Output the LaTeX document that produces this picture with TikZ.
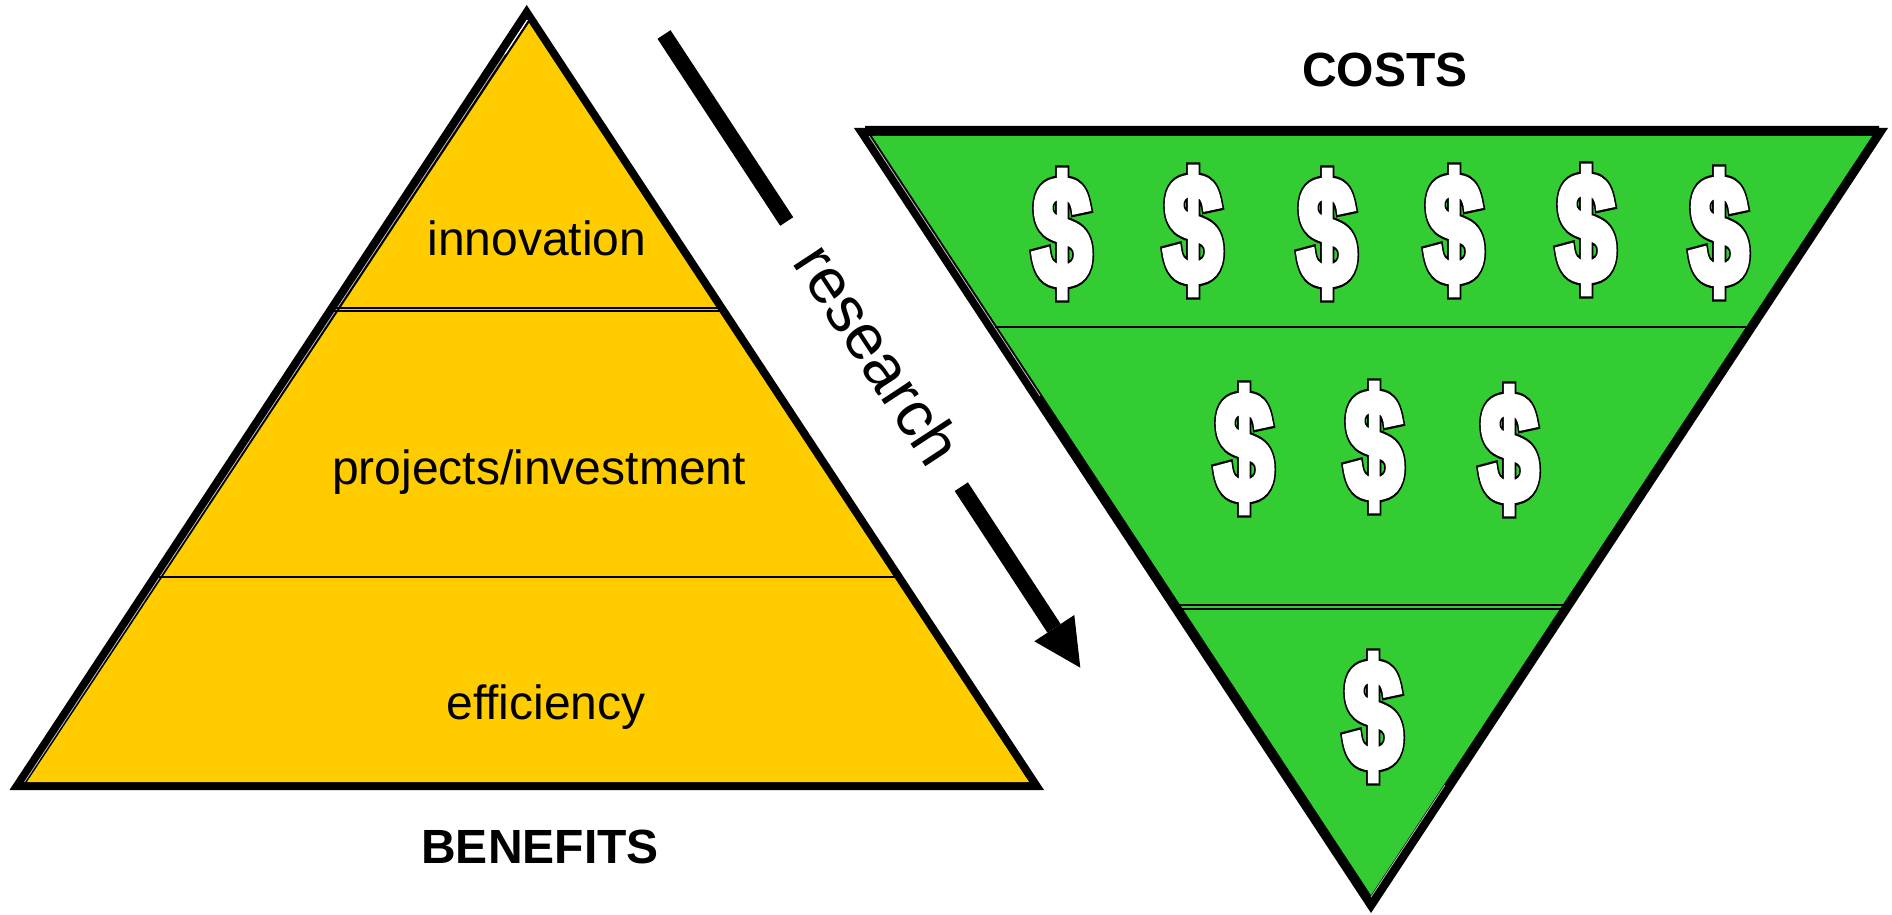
\documentclass[tikz,border=0pt]{standalone}
\usepackage{fontspec}
\setmainfont{Liberation Sans}
\newfontfamily\dollarout[FakeBold=8]{Liberation Sans Bold}
\newfontfamily\dollarin[FakeBold=5]{Liberation Sans Bold}
\definecolor{pyr}{RGB}{255,204,0}
\definecolor{fun}{RGB}{51,204,51}
\tikzset{
 lab/.style={inner sep=0pt,font=\fontsize{48}{48}\selectfont,text=black},
 head/.style={inner sep=0pt,font=\fontsize{48}{48}\selectfont\bfseries,text=black},
 div/.style={line width=2pt,draw=black},
 hair/.style={line width=0.8pt,draw=white!75!black},
 hairw/.style={line width=1.2pt,draw=white},
}
\newcommand{\dollar}[3]{%
 \node[inner sep=0pt,xscale=.69,text=black,font=\fontsize{153}{153}\dollarout] (#1o) at (#2,#3) {\$};
 \node[inner sep=0pt,xscale=.69,text=white,font=\fontsize{153}{153}\dollarin] (#1) at (#2,#3) {\$};
}
\begin{document}
\begin{tikzpicture}[x=1pt,y=-1pt]
\useasboundingbox (0,0) rectangle (1892,915);
% pyramid
\fill[black] (526.7,5) -- (9.5,790) -- (1044,790) -- cycle;
\fill[pyr] (529,23) -- (27,782) -- (1029,782) -- cycle;
\draw[hair] (527.3,20) -- (24.5,782);
\draw[hairw] (527.3,20) -- (505,54);
\draw[div] (334,307.5) -- (720,307.5);
\draw[div] (334,311) -- (720,311);
\draw[div] (159,577) -- (897,577);
% funnel
\fill[black] (854,128) -- (865,128) -- (865,126) -- (1879,126) -- (1879,128) -- (1888,128) -- (1371,913) -- cycle;
\fill[fun] (872,136) -- (1872,136) -- (1371,895) -- cycle;
\draw[hair] (869,136) -- (1040,396);
\draw[hair] (1371,897) -- (1445,785);
\draw[div] (995,327) -- (1750,327);
\draw[div] (1176,605) -- (1567,605);
\draw[div] (1176,608.5) -- (1565,608.5);
% arrow
\coordinate (a1) at (664,34.5);
\coordinate (a2) at (786.7,221.5);
\coordinate (a3) at (961.3,486.7);
\coordinate (a4) at (1054,628.3);
\coordinate (h1) at (1034.3,641.3);
\coordinate (h2) at (1074.3,615);
\coordinate (h3) at (1080.3,667.7);
\draw[line width=15.6pt,black] (a1) -- (a2);
\draw[line width=15.8pt,black] (a3) -- (a4);
\fill[black] (h1) -- (h2) -- (h3) -- cycle;
\node[lab,font=\fontsize{64}{64}\selectfont,rotate=-56.7] (research) at (879,354) {research};
% labels
\node[lab] (innovation) at (537,238) {innovation};
\node[lab] (projects) at (539,472.5) {projects/investment};
\node[lab] (efficiency) at (546,707) {efficiency};
\node[head] (costs) at (1385,70) {COSTS};
\node[head] (benefits) at (540,847) {BENEFITS};
% dollars
\dollar{d1}{1062}{234}
\dollar{d2}{1193}{231}
\dollar{d3}{1327}{234}
\dollar{d4}{1454}{231}
\dollar{d5}{1586}{230}
\dollar{d6}{1719}{233}
\dollar{d7}{1244}{449}
\dollar{d8}{1374}{447}
\dollar{d9}{1509}{450}
\dollar{d10}{1373}{717}
\end{tikzpicture}
\end{document}
